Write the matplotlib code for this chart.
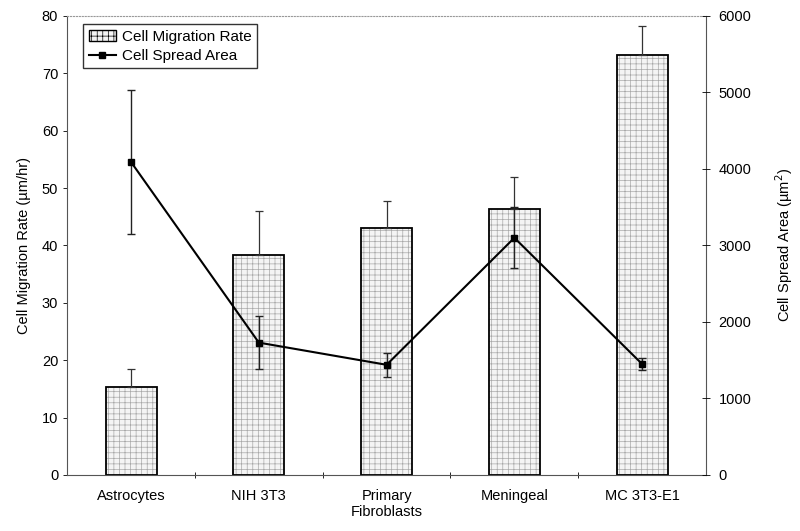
import matplotlib

matplotlib.use("Agg")
import matplotlib.pyplot as plt
import numpy as np
from matplotlib.lines import Line2D
from matplotlib.patches import Patch

plt.rcParams["font.family"] = ["Liberation Sans", "DejaVu Sans"]
plt.rcParams["font.size"] = 10.5
plt.rcParams["hatch.linewidth"] = 0.5

categories = ["Astrocytes", "NIH 3T3", "Primary\nFibroblasts", "Meningeal", "MC 3T3-E1"]
migration_rate = [15.4, 38.3, 43.0, 46.3, 73.2]
migration_err = [3.1, 7.7, 4.8, 5.7, 5.1]
spread_area = [4090, 1730, 1440, 3100, 1450]
spread_err = [940, 350, 160, 400, 80]

x = np.arange(len(categories))
fig = plt.figure(figsize=(8, 5.31), dpi=100)
ax = fig.add_axes([0.084, 0.1055, 0.7985, 0.8645])

# stippled fill, then a black outline on top
ax.bar(x, migration_rate, width=0.4, color="#f4f4f4", edgecolor="#a8a8a8",
       hatch="+++", linewidth=0)
ax.bar(x, migration_rate, width=0.4, fill=False, edgecolor="black", linewidth=1.3)
ax.errorbar(x, migration_rate, yerr=[np.zeros(len(x)), migration_err], fmt="none",
            ecolor="#333333", elinewidth=0.9, capsize=3, capthick=0.9)

ax.set_xlim(-0.5, 4.5)
ax.set_ylim(0, 80)
ax.set_yticks(range(0, 81, 10))
ax.set_ylabel("Cell Migration Rate (µm/hr)", labelpad=8)
ax.set_xticks(x)
ax.set_xticklabels(categories)
ax.tick_params(axis="x", length=0, pad=10)
ax.set_xticks(x[:-1] + 0.5, minor=True)
ax.tick_params(axis="x", which="minor", direction="inout", length=5, width=0.6)
ax.tick_params(axis="y", direction="out", length=3, width=0.6)
ax.spines["top"].set_linestyle(":")
ax.spines["top"].set_color("#999999")
for side in ["left", "right", "bottom"]:
    ax.spines[side].set_color("#555555")
    ax.spines[side].set_linewidth(0.8)

ax2 = ax.twinx()
ax2.errorbar(x, spread_area, yerr=spread_err, fmt="-s", color="black", ms=5,
             lw=1.5, ecolor="#222222", elinewidth=1.0, capsize=3, capthick=1.0)
ax2.set_ylim(0, 6000)
ax2.set_yticks(range(0, 6001, 1000))
ax2.set_ylabel("Cell Spread Area (µm$^2$)", labelpad=16)
ax2.tick_params(axis="y", direction="inout", length=6, width=0.6, pad=6)
for side in ["top", "left", "right", "bottom"]:
    ax2.spines[side].set_visible(False)

handles = [
    Patch(facecolor="#f4f4f4", edgecolor="black", hatch="+++", linewidth=1.0),
    Line2D([], [], color="black", marker="s", ms=5, lw=1.5),
]
leg = ax2.legend(handles, ["Cell Migration Rate", "Cell Spread Area"], loc="upper left",
                 bbox_to_anchor=(0.025, 0.982), borderaxespad=0, frameon=True,
                 fancybox=False, edgecolor="black", handlelength=1.8,
                 borderpad=0.35, labelspacing=0.35, handletextpad=0.4, fontsize=11)
leg.get_frame().set_linewidth(1.0)

fig.savefig("out.png", dpi=100)
